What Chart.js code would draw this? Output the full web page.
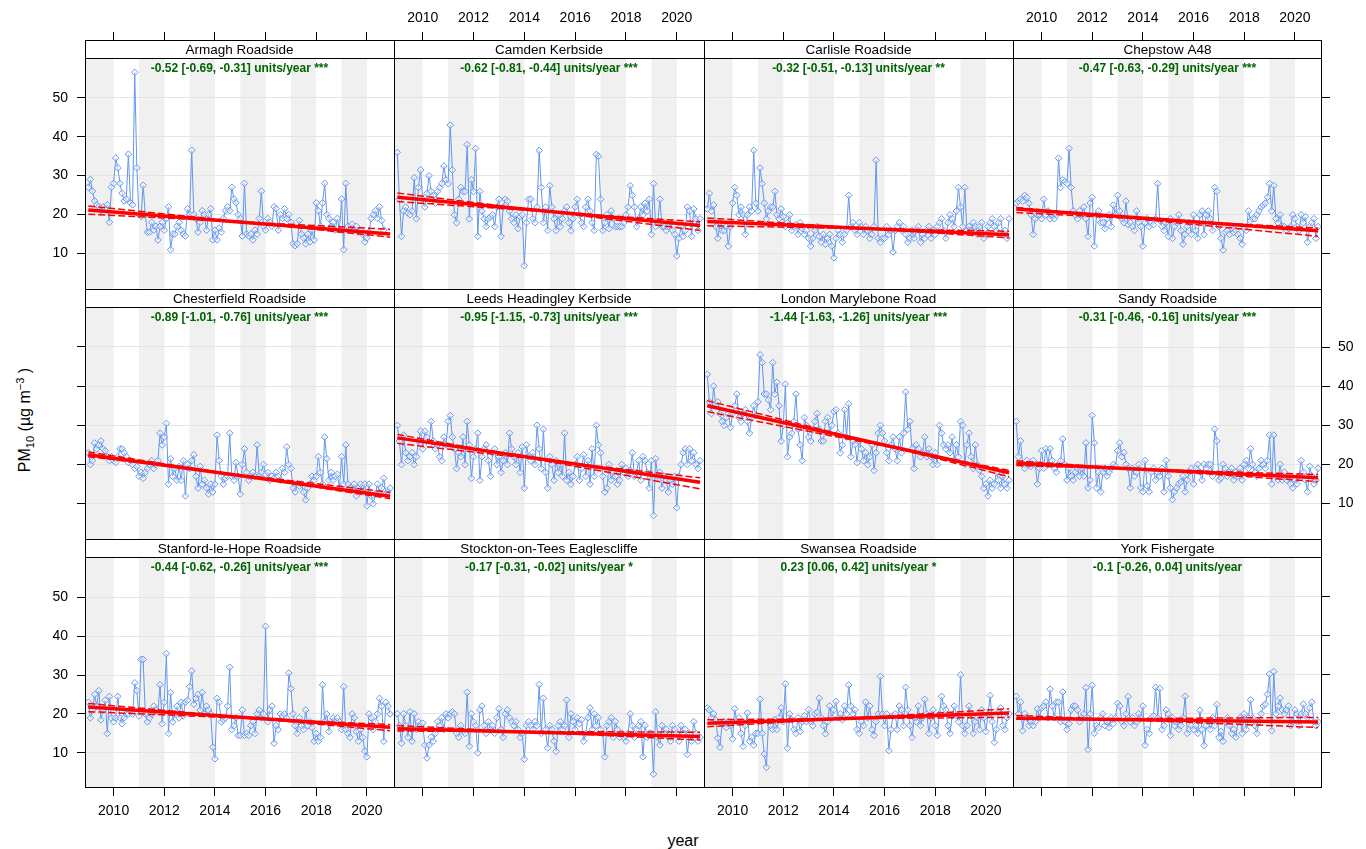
<!DOCTYPE html>
<html>
<head>
<meta charset="utf-8">
<script src="https://cdn.jsdelivr.net/npm/chart.js@4.4.1/dist/chart.umd.min.js"></script>
<style>
  body { margin: 0; background: #fff; }
  #wrap { position: relative; width: 1366px; height: 849px; overflow: hidden;
          font-family: "Liberation Sans", Arial, sans-serif; color: #000; }
  #wrap canvas { position: absolute; }
  .xtitle { position: absolute; left: 0; width: 1366px; top: 832px; text-align: center; font-size: 16px; line-height: 18px; }
  .ytitle { position: absolute; left: 25px; top: 420px; transform: translate(-50%, -50%) rotate(-90deg);
            font-size: 16px; white-space: nowrap; }
  .ytitle sub, .ytitle sup { font-size: 11px; }
</style>
</head>
<body>
<div id="wrap">
  <div class="xtitle">year</div>
  <div class="ytitle">PM<sub>10</sub> (µg m<sup>−3</sup> )</div>
</div>
<script>
// monthly means, Jan 2009 .. Dec 2020 (one row per year)
const armagh = [
  27, 29, 26, 23.5, 22.5, 22, 21, 22, 21.5, 22.5, 18, 27,
  28, 34.5, 32, 28, 25.5, 23.5, 24, 35.5, 23, 22.5, 56.5, 32,
  20, 19.5, 27.5, 20, 15.5, 15.5, 18, 16, 17, 13.5, 17, 18,
  16, 19, 22, 11, 15, 15, 17, 18, 16, 15, 14.5, 21.5,
  20, 36.5, 20, 19, 15.5, 18, 21, 20, 16, 20, 21.5, 13.5,
  16, 13.5, 16.5, 15.5, 19, 21, 22, 21, 27, 24, 23, 20,
  19, 14.5, 28, 15, 14.5, 15, 13.5, 16, 15, 19, 26, 17,
  16, 19, 18, 17, 22, 21.5, 16, 20, 19, 21.5, 19, 20,
  18, 12.5, 12, 12.5, 18.5, 15, 14, 12.5, 15, 13, 16, 13.5,
  23, 21, 17, 23, 28, 20, 19, 17, 18, 16, 19, 16,
  24, 11, 28, 17, 16, 17.5, 16, 17, 15.5, 16, 15, 13,
  14, 15.5, 19, 20, 21, 19, 22, 18.5, 16, null, null, null];
const camden = [
  36, 24, 14.5, 21, 22, 20.5, 20, 21, 29.5, 19, 27, 31.5,
  24, 22, 25.5, 30, 26, 25, 23, 26, 27, 28, 32.5, 29,
  28, 43, 31.5, 20, 18, 24, 27, 26, 26, 38, 19, 29,
  26, 37, 14.5, 26, 21, 19, 17, 19, 19.5, 20, 17, 22,
  24, 14.5, 22, 24, 23.5, 21, 19, 18, 20, 16.5, 19.5, 20,
  7, 18, 24, 24, 19, 18, 22, 36.5, 27, 18, 22, 16,
  27.5, 22, 19, 16, 20, 17, 19, 21, 22, 18, 16, 19,
  22, 24, 20, 18, 17, 22, 24, 21, 18, 16, 35.5, 35,
  24, 16, 18, 20, 16.5, 21, 19, 17, 17, 17, 17, 18,
  20, 22, 27.5, 25, 22, 17, 19, 22, 20, 23, 21, 24,
  15, 28, 17, 18, 24, 17, 17, 16, 17, 18, 16, 15,
  9.5, 14, 17, 14.5, 16, 22, 21, 14.5, 21.5, 19, 16, 19];
const carlisle = [
  21.5, 25.5, 21, 22.5, 17, 14, 18, 16, 16, 17, 12, 17,
  23, 27, 25, 20, 22, 20, 15, 20, 22, 21, 36.5, 23,
  21, 32, 28, 23, 19, 21, 22, 22, 26, 20, 19, 21.5,
  19.5, 17, 18, 20, 16, 17, 17.5, 15, 18, 16.5, 15, 16,
  14, 12, 14, 16, 17, 14.5, 13, 15, 12.5, 14, 15, 12,
  9, 14, 16, 15, 13, 15, 16, 25, 17, 18, 16, 15,
  18, 17, 15, 17, 16, 14, 15, 17, 34, 14, 13, 14,
  14, 17, 15, 16, 10.5, 16, 17, 18, 16, 17, 15, 13,
  14, 16, 14, 16, 17, 13, 15, 14, 16, 17, 14, 16,
  15, 17, 18, 19, 16, 14, 18, 20, 19, 17, 21, 27,
  22, 17, 27, 16, 17, 16, 18, 17, 15, 17, 18, 14,
  15, 17, 18, 19, 17, 16, 18, 19, 15, 16, 14, 19];
const chepstow = [
  23, 23.5, 24, 23.5, 25, 24.5, 23, 20, 15, 19, 20, 20,
  19, 24, 20, 21, 19, 20, 19, 20, 34.5, 27, 29, 28.5,
  28, 37, 27, 21, 20, 19, 21, 20, 22, 19, 14.5, 23,
  24.5, 12, 20, 21, 18, 18, 16.5, 19, 20, 17, 22.5, 20,
  25, 21, 19, 18, 23.5, 17.5, 18, 17, 16, 21, 18, 17,
  12, 18, 19, 17, 18, 17.5, 19, 28, 18.5, 17, 16, 18,
  14.5, 19, 14, 17, 18, 20, 16, 12.5, 15, 17, 18, 15,
  20, 16, 14, 20, 21, 15, 20, 21, 19, 16, 27, 26,
  17, 14, 11, 15.5, 16, 15, 16.5, 15.5, 16, 15, 14, 12.5,
  16.5, 16, 21, 18.5, 19, 19, 20, 21, 22, 22.5, 23, 24.5,
  28, 21, 27.5, 19, 18, 20, 17, 17, 16, 16.5, 17, 20,
  19, 17, 16, 20, 18, 19.5, 13, 17, 18, 19, 14, 17];
const chesterfield = [
  23, 20, 21, 25.5, 24, 25, 26, 24, 23.5, 22, 21, 22,
  21, 20.5, 22, 24, 24, 23, 22, 20.5, 21, 20, 19, 19.5,
  17, 18, 16.5, 18, 19, 20, 21, 19, 20, 21, 28, 25,
  27, 30.5, 15, 21.5, 17, 19, 16, 19.5, 16, 21, 12, 20,
  19, 21, 22.5, 17, 14, 19.5, 15, 16, 14, 12.5, 15, 13,
  15, 27.5, 21, 17, 15, 16.5, 17, 28, 17, 16, 20.5, 17,
  12.5, 20, 24, 18, 16, 17, 18, 17, 25, 17, 18, 20,
  17.5, 18, 16, 17, 16.5, 18, 17, 16, 19, 18, 24.5, 20,
  19, 14, 13, 15, 14.5, 15, 13, 11, 14, 15, 17, 16,
  17, 22, 18, 15, 27, 21.5, 16, 18, 16, 17, 17.5, 14,
  22, 15, 25, 15, 14, 13.5, 15, 12, 14, 15, 13, 15,
  9.5, 15, 12, 10, 12.5, 15, 12.5, 14, 16.5, 12.5, 13, 14];
const leeds = [
  30, 26, 20, 27.5, 23, 21, 22, 23, 20, 22, 26, 28.5,
  24, 28.5, 27, 25, 31, 26, 24, 25, 22, 21, 27, 25,
  31, 32.5, 27, 24, 19, 23, 22, 27, 20, 31, 25, 16.5,
  22, 24, 28, 16, 22, 24, 25, 21, 17, 23, 24, 20,
  22, 18, 21, 23, 20, 28, 24, 22, 20, 23, 18, 24.5,
  14, 25, 22, 21, 23, 20, 30, 24, 19, 29, 18, 14,
  22, 20, 16, 21, 18, 20, 17, 28, 16, 18, 15, 17,
  20, 22, 16, 19, 22.5, 17, 21, 15, 24, 17, 30, 25,
  23, 17, 13, 14, 20, 16, 18, 17, 15, 16, 20, 18,
  19, 17, 18.5, 23, 17, 18, 21, 16, 22, 21, 18, 14,
  21, 7, 21.5, 17, 18, 14, 17, 16, 13, 16, 15, 17,
  9, 17, 20, 23, 24, 20, 24, 21, 23, 20, 19, 21];
const london = [
  43, 36, 33, 40, 35, 36, 33, 31, 30, 32, 33, 29.5,
  33, 35, 38, 32, 31, 33, 34, 31, 28, 32, 35, 32.5,
  36, 48, 46, 38, 38, 36.5, 34, 46, 38, 41, 35, 26,
  30, 40.5, 22, 27, 28, 31, 38, 29, 25, 21, 32, 30,
  27, 26, 29, 31, 33, 29, 26, 26, 31, 32, 28, 30,
  33.5, 34, 28, 23, 25, 34, 27, 35.5, 22, 26, 25, 20.5,
  26, 24, 21, 23, 20, 22, 25, 18.5, 23, 28, 30, 28,
  26, 23, 21, 25, 27, 24, 21, 27, 23, 28, 38.5, 29,
  31, 24, 19, 25, 24, 22, 23, 27, 22, 24, 22, 20,
  23, 20, 30, 28, 25, 24, 25, 23, 27, 21, 25, 22,
  31, 30, 20, 25, 28, 22, 19, 25, 20, 18.5, 17, 14,
  15, 12, 16, 14, 15, 18, 16, 14, 17, 15, 14, 16];
const sandy = [
  31, 22, 26, 20, 19, 21, 20, 19.5, 21, 20, 15, 19,
  23.5, 19, 24, 20, 24, 21, 19, 18, 20, 21, 26.5, 20,
  16, 19, 17, 16, 18, 19, 17, 19, 17, 25.5, 14, 16,
  32.5, 25.5, 14, 18, 13, 18, 19, 17, 18, 19, 20, 19.5,
  23.5, 25.5, 22, 23, 20, 19, 14, 19, 17, 18, 20, 14,
  13, 21, 14.5, 13, 18, 19, 16, 18, 17, 19, 13, 21,
  17, 14, 11, 13, 14, 15, 15.5, 17, 13, 16, 18, 19,
  15, 19, 20, 18, 16, 20, 19, 20, 20, 17, 29, 26,
  16, 16.5, 20, 19, 17, 18, 19, 16, 18, 17, 19, 16,
  20, 21, 19, 24, 20, 18, 17, 19, 21, 20, 19, 21,
  27.5, 15, 27.5, 17, 16, 20, 16, 18, 16, 17, 15, 14,
  16, 15, 17, 21, 18, 16, 13, 19.5, 17, 15, 16, 19];
const stanford = [
  23, 19, 21, 25, 22, 26, 18.5, 21, 23.5, 15, 24.5, 19,
  18, 19, 24.5, 19, 17.5, 19, 20, 20, 21, 20, 28, 26,
  19.5, 34, 34, 20, 18, 19, 20, 22, 21, 20.5, 27.5, 17.5,
  23, 35.5, 15, 25.5, 18, 20, 22, 19, 23, 19.5, 23, 23.5,
  27, 31, 22.5, 24, 25, 21, 25.5, 20, 22, 21, 20, 11.5,
  8.5, 24, 23, 18, 18.5, 19, 22, 32, 16, 17, 19, 14.5,
  14.5, 21, 14.5, 15, 14.5, 17, 18, 15, 20, 21, 19, 20,
  42.5, 18, 21, 22, 12.5, 17, 16, 20, 19.5, 20, 19, 30.5,
  26.5, 20, 17, 15, 19, 17, 16, 21, 17, 18, 16.5, 13,
  15, 13, 14, 27.5, 18, 20, 15.5, 18, 19, 18, 19, 18,
  16, 27, 16, 15, 14, 20, 19, 15.5, 13, 16, 14, 10.5,
  9, 20, 19, 16, 18, 20, 24, 22, 13, 23, 22, 20];
const stockton = [
  20, 17, 12.5, 20, 17, 14, 20.5, 13, 20, 16, 18, 17,
  17.6, 12, 8.7, 12, 14, 13, 15, 18, 17, 19, 16, 20,
  19, 20, 20.5, 20, 15, 14, 17, 15.5, 15, 25.5, 11.7, 20,
  18, 17, 10, 21, 22, 17, 15, 18, 16, 17, 15, 19,
  21.3, 16, 14, 20, 21, 19, 18, 17, 18, 16, 14, 15,
  8.4, 17, 18, 17, 16, 18, 17, 27.5, 15, 24, 16, 11.3,
  17, 16, 13, 10.4, 17, 18, 16, 17, 23.5, 14, 20, 18,
  16, 19, 17.5, 18.5, 13, 15, 19, 21.5, 16, 20, 17, 19,
  16, 15, 9, 17, 18, 19, 14, 18, 16, 14, 15, 14,
  13, 15, 20, 17, 14, 16, 17, 18, 9, 17, 14, 15,
  15, 4.6, 20.5, 14, 12, 17, 15, 16, 14, 13, 17, 16,
  15, 13, 17, 15, 16, 9.6, 15, 13, 18, 15, 13, 14];
const swansea = [
  21.5, 21, 19, 20, 18.5, 13.8, 11.5, 17.5, 18, 16.5, 18, 17,
  13.6, 21.3, 18, 19, 15, 11.7, 17, 20.2, 13, 14, 12, 15,
  15, 23.7, 15, 9.7, 6.3, 18, 17, 16, 18.5, 16, 19, 21.5,
  18, 27.7, 11.2, 20, 18.5, 16, 15, 19, 15.5, 18, 19.5, 18,
  21.1, 18, 17, 20, 20.5, 24, 19, 17, 14.9, 18, 22, 19,
  21, 23.2, 19, 20, 18.5, 22, 20, 27.4, 22, 20, 21, 16,
  15, 18, 17, 23, 19, 22, 16, 14.5, 18, 20, 29.6, 20,
  17, 20, 10.6, 16, 19.5, 20, 16, 22, 21, 17, 26.8, 21,
  17, 14, 19, 18, 22, 17, 19, 23.7, 20, 15, 19, 21,
  17, 14.5, 20, 24.5, 22, 21, 17, 15, 19.5, 22, 19.5, 18,
  30, 17, 15, 17, 22, 20, 15, 18, 19, 16, 21, 19,
  15.5, 20, 24.7, 18, 12.7, 16, 20.5, 21.5, 17, 16, 19, 20];
const york = [
  24.5, 20, 23, 15.7, 20, 19, 17, 18, 17, 18, 21.3, 19,
  21.5, 22, 23, 19, 26.3, 22, 19, 23, 23, 18, 25.6, 18,
  16, 17.5, 21, 22, 22, 21, 18, 19, 20, 26.7, 10.9, 20,
  27.3, 15, 17, 16.5, 19, 20, 17, 18, 16.5, 19, 17.5, 19,
  22.7, 22, 18, 17, 20, 24.4, 18, 19, 17, 18, 20, 19,
  22, 12, 16, 15, 19, 19.5, 26.8, 19, 26.5, 16, 17, 21,
  20, 14.5, 19, 17, 18, 16, 17, 19, 24.5, 15, 16, 17,
  16, 17, 15, 20.9, 16, 11.9, 17, 18, 16, 19, 17, 22.4,
  14, 15.5, 13, 18, 19, 17, 15, 16, 14, 18, 19, 15,
  20, 16, 19, 23.6, 19, 17, 15, 18, 20, 22, 22.5, 25,
  30.2, 15.7, 30.8, 20, 22, 24, 21, 20, 21, 22, 17, 18,
  21, 20, 17, 20, 22.5, 20, 19, 21.5, 23, 18, 17, 18];

const sites = ["Armagh Roadside", "Camden Kerbside", "Carlisle Roadside", "Chepstow A48",
  "Chesterfield Roadside", "Leeds Headingley Kerbside", "London Marylebone Road", "Sandy Roadside",
  "Stanford-le-Hope Roadside", "Stockton-on-Tees Eaglescliffe", "Swansea Roadside", "York Fishergate"];
const series = [armagh, camden, carlisle, chepstow, chesterfield, leeds, london, sandy,
  stanford, stockton, swansea, york];
const trendText = [
  "-0.52 [-0.69, -0.31] units/year ***", "-0.62 [-0.81, -0.44] units/year ***",
  "-0.32 [-0.51, -0.13] units/year **", "-0.47 [-0.63, -0.29] units/year ***",
  "-0.89 [-1.01, -0.76] units/year ***", "-0.95 [-1.15, -0.73] units/year ***",
  "-1.44 [-1.63, -1.26] units/year ***", "-0.31 [-0.46, -0.16] units/year ***",
  "-0.44 [-0.62, -0.26] units/year ***", "-0.17 [-0.31, -0.02] units/year *",
  "0.23 [0.06, 0.42] units/year *", "-0.1 [-0.26, 0.04] units/year"];
// trend line values at start (Jan 2009) and end (Dec 2020)
const trendFrom = [21.2, 24.5, 18.3, 21.5, 22.5, 26.8, 35.0, 20.3, 21.8, 16.2, 17.6, 18.9];
const trendTo   = [15.0, 17.3, 14.9, 15.9, 11.9, 15.5, 17.9, 16.6, 16.6, 14.2, 20.2, 17.9];
const ciAFrom   = [22.2, 25.6, 19.2, 21.9, 23.2, 27.7, 36.3, 20.9, 22.7, 17.0, 16.7, 19.6];
const ciATo     = [14.2, 16.0, 14.1, 14.5, 11.3, 13.8, 16.9, 15.6, 15.7, 13.3, 21.3, 16.5];
const ciBFrom   = [20.1, 23.4, 17.2, 20.6, 22.0, 25.4, 33.5, 19.7, 20.6, 15.6, 18.5, 18.6];
const ciBTo     = [16.2, 18.2, 15.8, 16.6, 12.9, 16.6, 18.5, 17.4, 17.3, 15.3, 19.1, 19.1];

const xTicks = [2010, 2012, 2014, 2016, 2018, 2020];
const yTicks = [10, 20, 30, 40, 50];
const shadeYears = [[2008, 2010], [2011, 2012], [2013, 2014], [2015, 2016], [2017, 2018], [2019, 2020]];

const monthX = [];
for (let y = 2009; y <= 2020; y++)
  for (let m = 0; m < 12; m++) monthX.push(y + m / 12);
const FIRST = 2009, LAST = 2020 + 11 / 12;

// layout
const colX = [85, 394, 704, 1013, 1322];
const rowY = [40, 289, 539, 788];
const STRIP = 18;
const X_LO = 2008.87, X_HI = 2021.07;
const Y_LO = 1.0, Y_HI = 60.2;
const FONT = "'Liberation Sans', Arial, sans-serif";

const wrap = document.getElementById('wrap');

function buildChart(i, box) {
  const r = Math.floor(i / 4), c = i % 4;
  const T = rowY[r], B = rowY[r + 1];
  const k = (B - T - STRIP) / (Y_HI - Y_LO);
  const yMax = Y_HI + STRIP / k;

  const cv = document.createElement('canvas');
  cv.width = box.w; cv.height = box.h;
  cv.style.left = box.l + 'px'; cv.style.top = box.t + 'px';
  cv.style.width = box.w + 'px'; cv.style.height = box.h + 'px';
  wrap.appendChild(cv);

  const pts = [];
  series[i].forEach((v, j) => { if (v !== null) pts.push({ x: monthX[j], y: v }); });

  const tickFont = { family: FONT, size: 14 };
  const setX = s => { s.ticks = xTicks.map(v => ({ value: v })); };
  const setY = s => { s.ticks = yTicks.map(v => ({ value: v })); };

  const scales = {
    x: {
      type: 'linear', min: X_LO, max: X_HI,
      position: r == 0 ? 'top' : 'bottom',
      display: r != 1,
      afterBuildTicks: setX,
      afterFit: s => { s.height = r == 0 ? 40 : (r == 2 ? 61 : 0); },
      grid: { drawOnChartArea: false, drawTicks: true, tickLength: 8, tickColor: '#000', tickWidth: 1 },
      border: { display: false },
      ticks: {
        display: (r == 0 && c % 2 == 1) || (r == 2 && c % 2 == 0),
        callback: v => String(v), font: tickFont, color: '#000',
        padding: r == 0 ? 5 : 7, maxRotation: 0, autoSkip: false
      }
    },
    y: {
      type: 'linear', min: Y_LO, max: yMax, position: 'left',
      afterBuildTicks: setY,
      afterFit: s => { s.width = c == 0 ? 85 : 0; },
      grid: { color: '#e4e4e4', lineWidth: 1, drawTicks: c == 0, tickLength: 8, tickColor: '#000', tickWidth: 1 },
      border: { display: false },
      ticks: {
        display: c == 0 && r != 1, callback: v => String(v),
        font: tickFont, color: '#000', padding: 9
      }
    }
  };
  if (c == 3) {
    scales.y2 = {
      type: 'linear', min: Y_LO, max: yMax, position: 'right',
      afterBuildTicks: setY,
      afterFit: s => { s.width = 44; },
      grid: { drawOnChartArea: false, drawTicks: true, tickLength: 8, tickColor: '#000', tickWidth: 1 },
      border: { display: false },
      ticks: { display: r == 1, callback: v => String(v), font: tickFont, color: '#000', padding: 8 }
    };
  }

  const panelDecor = {
    id: 'panelDecor',
    beforeDraw(chart) {
      const ctx = chart.ctx, a = chart.chartArea, xs = chart.scales.x;
      ctx.save();
      ctx.fillStyle = '#f0f0f0';
      shadeYears.forEach(([y0, y1]) => {
        const x0 = Math.max(a.left, xs.getPixelForValue(y0));
        const x1 = Math.min(a.right, xs.getPixelForValue(y1));
        if (x1 > x0) ctx.fillRect(x0, a.top + STRIP, x1 - x0, a.bottom - a.top - STRIP);
      });
      ctx.restore();
    },
    afterDraw(chart) {
      const ctx = chart.ctx, a = chart.chartArea;
      const top = Math.round(a.top), left = Math.round(a.left);
      const right = Math.round(a.right), bottom = Math.round(a.bottom);
      ctx.save();
      ctx.fillStyle = '#fff';
      ctx.fillRect(left, top, right - left, STRIP);
      ctx.strokeStyle = '#000';
      ctx.lineWidth = 1;
      ctx.beginPath();
      ctx.moveTo(left, top + STRIP + 0.5); ctx.lineTo(right, top + STRIP + 0.5);
      ctx.moveTo(left + 0.5, top); ctx.lineTo(left + 0.5, bottom);
      ctx.moveTo(left, top + 0.5); ctx.lineTo(right, top + 0.5);
      if (c == 3) { ctx.moveTo(right - 0.5, top); ctx.lineTo(right - 0.5, bottom); }
      if (r == 2) { ctx.moveTo(left, bottom - 0.5); ctx.lineTo(right, bottom - 0.5); }
      ctx.stroke();
      ctx.fillStyle = '#000';
      ctx.font = '13.5px ' + FONT;
      ctx.textAlign = 'center';
      ctx.textBaseline = 'middle';
      ctx.fillText(sites[i], (left + right) / 2, top + STRIP / 2 + 1);
      ctx.fillStyle = '#006400';
      ctx.font = 'bold 12px ' + FONT;
      ctx.fillText(trendText[i], (left + right) / 2, top + STRIP + 11);
      ctx.restore();
    }
  };

  const chart = new Chart(cv, {
    type: 'line',
    data: {
      datasets: [
        { data: [{ x: FIRST, y: trendFrom[i] }, { x: LAST, y: trendTo[i] }],
          borderColor: '#ff0000', borderWidth: 3.5, pointRadius: 0, order: 1 },
        { data: [{ x: FIRST, y: ciAFrom[i] }, { x: LAST, y: ciATo[i] }],
          borderColor: '#ff0000', borderWidth: 1.5, borderDash: [7, 3], pointRadius: 0, order: 1 },
        { data: [{ x: FIRST, y: ciBFrom[i] }, { x: LAST, y: ciBTo[i] }],
          borderColor: '#ff0000', borderWidth: 1.5, borderDash: [7, 3], pointRadius: 0, order: 1 },
        { data: pts, borderColor: '#6495ED', borderWidth: 1, tension: 0,
          pointStyle: 'rectRot', pointRadius: 3.3, pointBorderWidth: 1,
          pointBorderColor: '#6495ED', pointBackgroundColor: 'rgba(255,255,255,0.45)', order: 3 }
      ]
    },
    options: {
      responsive: false, maintainAspectRatio: false, animation: false, devicePixelRatio: 1,
      layout: { padding: 0, autoPadding: false },
      scales: scales,
      plugins: { legend: { display: false }, tooltip: { enabled: false }, title: { display: false } }
    },
    plugins: [panelDecor]
  });
  return { chart, cv };
}

function makePanel(i) {
  const r = Math.floor(i / 4), c = i % 4;
  const L = colX[c], R = colX[c + 1], T = rowY[r], B = rowY[r + 1];
  const cl = c == 0 ? 0 : L, cr = c == 3 ? 1366 : R;
  const ct = r == 0 ? 0 : T, cb = r == 2 ? 849 : B;
  let box = { l: cl, t: ct, w: cr - cl, h: cb - ct };
  let built = buildChart(i, box);
  // scale label padding can shrink the plot area; grow the canvas so the
  // plot area lands on the panel cell
  const a = built.chart.chartArea;
  const dl = Math.round(a.left - (L - box.l)), dt = Math.round(a.top - (T - box.t));
  const dr = Math.round((R - box.l) - a.right), db = Math.round((B - box.t) - a.bottom);
  if (dl || dt || dr || db) {
    built.chart.destroy();
    built.cv.remove();
    box = { l: box.l - dl, t: box.t - dt, w: box.w + dl + dr, h: box.h + dt + db };
    buildChart(i, box);
  }
}

for (let i = 0; i < 12; i++) makePanel(i);
</script>
</body>
</html>
